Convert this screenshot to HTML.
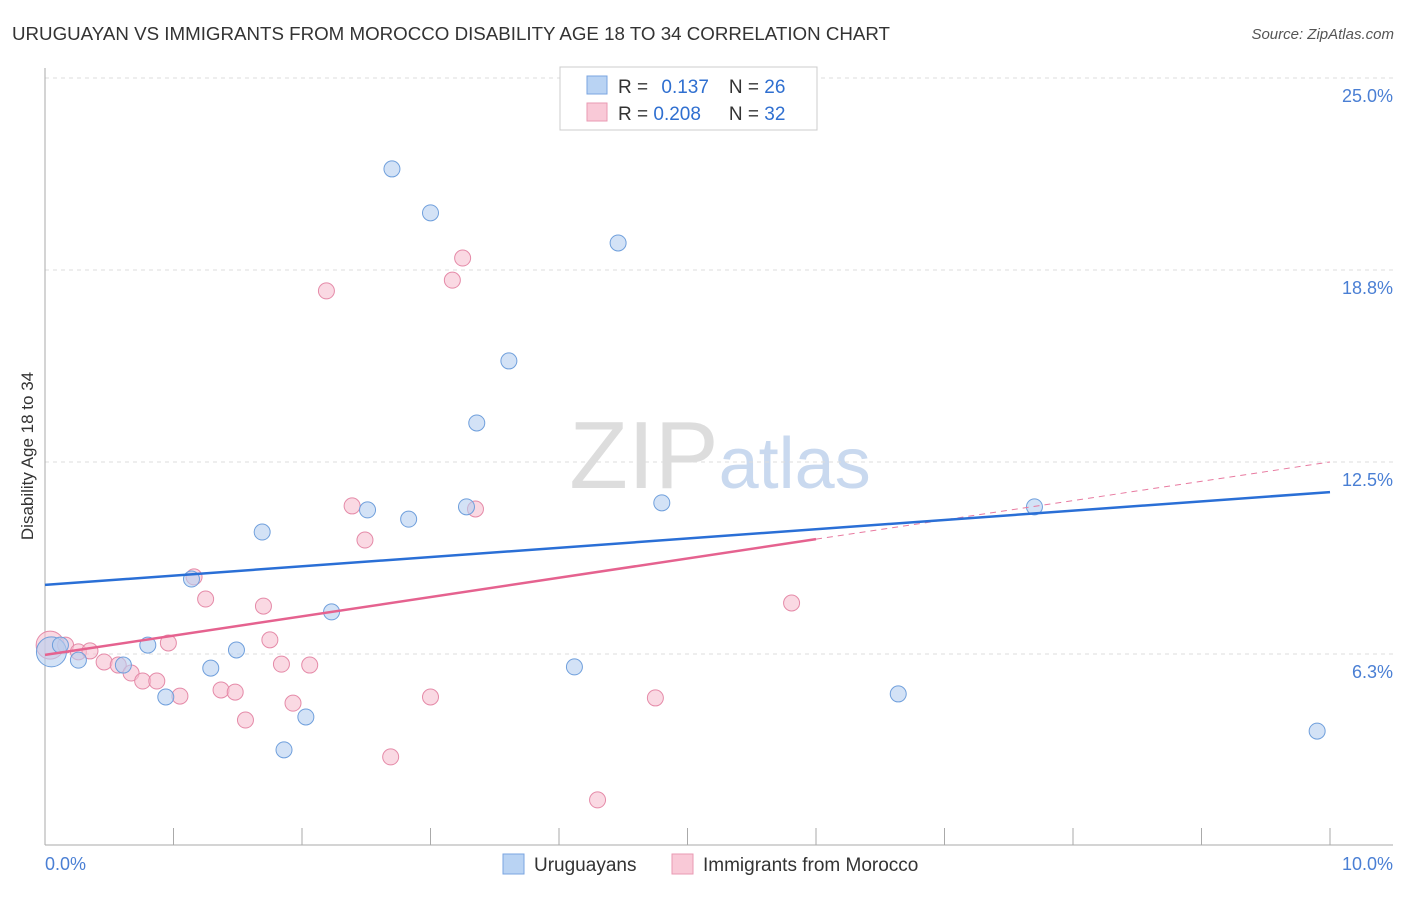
<!DOCTYPE html>
<html><head><meta charset="utf-8"><style>
body{margin:0;background:#fff;font-family:"Liberation Sans",sans-serif;}
svg text{font-family:"Liberation Sans",sans-serif;}
</style></head><body>
<svg id="c" width="1406" height="892">
<text x="12" y="40" font-size="18" fill="#333" textLength="878" lengthAdjust="spacingAndGlyphs">URUGUAYAN VS IMMIGRANTS FROM MOROCCO DISABILITY AGE 18 TO 34 CORRELATION CHART</text>
<text x="1394" y="39" font-size="15" fill="#555" text-anchor="end" font-style="italic">Source: ZipAtlas.com</text>
<text x="720" y="488" font-size="96" fill="#ddd" text-anchor="middle" font-family="Liberation Serif">ZIP<tspan fill="#c9d9ef" font-family="Liberation Sans" font-size="72">atlas</tspan></text>
<g id="grid"></g><g id="marks"></g>
<text transform="translate(33,456) rotate(-90)" font-size="17" fill="#333" text-anchor="middle">Disability Age 18 to 34</text>
<text x="45" y="870" font-size="18" fill="#4a7fd4">0.0%</text>
<text x="1393" y="870" font-size="18" fill="#4a7fd4" text-anchor="end">10.0%</text>
<g>
<rect x="560" y="67" width="257" height="63" fill="#fff" stroke="#ccc"/>
<rect x="587" y="76" width="20" height="18" fill="#b9d3f3" stroke="#7aa5e0"/>
<rect x="587" y="103" width="20" height="18" fill="#f9c9d7" stroke="#e99ab3"/>
<text x="618" y="93" font-size="19" fill="#333">R = <tspan fill="#2f6fd0" dx="8">0.137</tspan><tspan dx="20" fill="#333">N = </tspan><tspan fill="#2f6fd0">26</tspan></text>
<text x="618" y="120" font-size="19" fill="#333">R = <tspan fill="#2f6fd0">0.208</tspan><tspan dx="28" fill="#333">N = </tspan><tspan fill="#2f6fd0">32</tspan></text>
</g>
<g>
<rect x="503" y="854" width="21" height="20" fill="#b9d3f3" stroke="#7aa5e0"/>
<text x="534" y="871" font-size="19" fill="#333">Uruguayans</text>
<rect x="672" y="854" width="21" height="20" fill="#f9c9d7" stroke="#e99ab3"/>
<text x="703" y="871" font-size="19" fill="#333">Immigrants from Morocco</text>
</g>
</svg>
<script>
const yTicks=[6.25,12.5,18.75,25];
const yTickLabels=["6.3%","12.5%","18.8%","25.0%"];
const blueX=[0.05,0.12,0.26,0.61,0.80,0.94,1.14,1.29,1.49,1.69,1.86,2.03,2.23,2.51,2.70,2.83,3.00,3.28,3.36,3.61,4.12,4.46,4.80,6.64,7.70,9.90];
const blueY=[6.32,6.54,6.05,5.89,6.54,4.85,8.69,5.79,6.38,10.22,3.13,4.20,7.62,10.94,22.04,10.64,20.61,11.04,13.77,15.79,5.83,19.63,11.17,4.95,11.04,3.74];
const pinkX=[0.04,0.16,0.26,0.35,0.46,0.57,0.67,0.76,0.87,0.96,1.05,1.16,1.25,1.37,1.48,1.56,1.70,1.75,1.84,1.93,2.06,2.19,2.39,2.49,2.69,3.00,3.17,3.25,3.35,4.30,4.75,5.81];
const pinkY=[6.54,6.54,6.32,6.35,5.99,5.89,5.63,5.37,5.37,6.61,4.88,8.76,8.04,5.08,5.01,4.10,7.81,6.71,5.92,4.65,5.89,18.07,11.07,9.96,2.90,4.85,18.42,19.14,10.97,1.50,4.82,7.91];
const blueTrend=[8.50,11.52];
const pinkTrend=[6.22,12.5];
const pinkSolidEnd=6.0;
const X=v=>45+v*128.5, Y=v=>846-v*30.72;
const NS="http://www.w3.org/2000/svg";
const g=document.getElementById('grid'), m=document.getElementById('marks');
function el(t,a,p){const e=document.createElementNS(NS,t);for(const k in a)e.setAttribute(k,a[k]);p.appendChild(e);return e;}
yTicks.forEach((t,i)=>{
 const l=el('line',{x1:45,x2:1393,y1:Y(t),y2:Y(t),stroke:'#ddd','stroke-dasharray':'4,4'},g);
 
 
 const tx=el('text',{x:1393,y:Y(t)+24,'font-size':18,fill:'#4a7fd4','text-anchor':'end'},g);
 tx.textContent=yTickLabels[i];
 
 
});
const ax=el('line',{x1:45,x2:1393,y1:845,y2:845,stroke:'#aaa'},g);


const ay=el('line',{x1:45,x2:45,y1:68,y2:845,stroke:'#aaa'},g);


for(let i=1;i<=10;i++){
 const t=el('line',{x1:X(i),x2:X(i),y1:828,y2:845,stroke:'#aaa'},g);
 
 
}
function pts(xs,ys,fill,stroke,name){
 xs.forEach((x,i)=>{
  const r=i===0?(name==='uruguayan'?15:14):8;
  const c=el('circle',{cx:X(x),cy:Y(ys[i]),r:r,fill:fill,'fill-opacity':0.6,stroke:stroke,'stroke-width':1},m);
  
  
 });
}
pts(pinkX,pinkY,'#f7c0d1','#e58aa8','morocco');
pts(blueX,blueY,'#b5cef0','#6f9fdc','uruguayan');
const pm=pinkTrend[0]+(pinkTrend[1]-pinkTrend[0])*pinkSolidEnd/10;
const pd=el('line',{x1:X(pinkSolidEnd),y1:Y(pm),x2:X(10),y2:Y(pinkTrend[1]),stroke:'#e87aa0','stroke-dasharray':'6,5','stroke-width':1},m);


const ps=el('line',{x1:X(0),y1:Y(pinkTrend[0]),x2:X(pinkSolidEnd),y2:Y(pm),stroke:'#e5628f','stroke-width':2.5},m);


const bl=el('line',{x1:X(0),y1:Y(blueTrend[0]),x2:X(10),y2:Y(blueTrend[1]),stroke:'#2a6fd6','stroke-width':2.5},m);


</script>
</body></html>
